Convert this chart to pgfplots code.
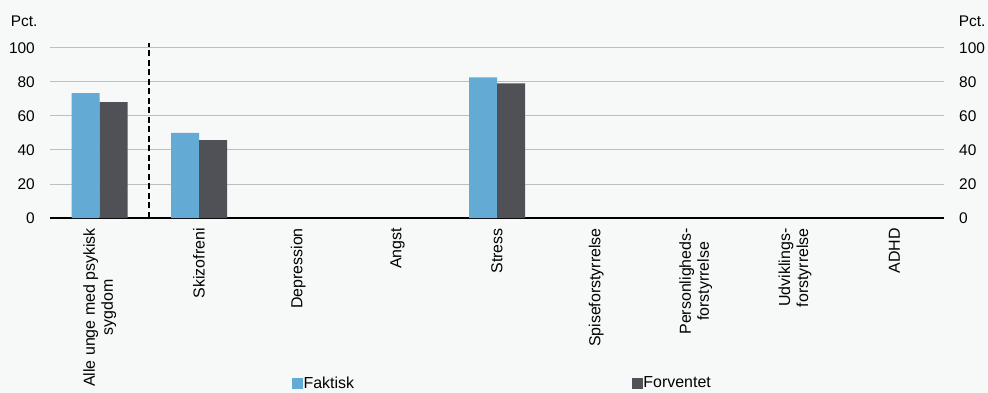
\documentclass[border=0pt]{standalone}
\usepackage{pgfplots}
\pgfplotsset{compat=1.18}
\usepackage{fontspec}
\setmainfont{Liberation Sans}
\definecolor{bgc}{RGB}{247,248,248}
\definecolor{cfak}{RGB}{99,170,213}
\definecolor{cfor}{RGB}{80,81,86}
\definecolor{cgrid}{RGB}{190,190,190}
\begin{document}
\begin{tikzpicture}
\useasboundingbox (0,0) rectangle (988bp,393bp);
\fill[bgc] (0,0) rectangle (988bp,393bp);
\begin{axis}[
  at={(50bp,175bp)}, anchor=south west,
  scale only axis, width=894bp, height=170.3bp,
  ymin=0, ymax=100, xmin=-0.5, xmax=8.5,
  clip=false,
  /pgf/number format/assume math mode=true,
  font=\fontsize{15.5}{18}\selectfont,
  ybar, bar width=28bp,
  axis x line*=bottom, axis y line*=left,
  x axis line style={black, line width=1.4bp, -},
  y axis line style={draw=none},
  ytick={0,20,...,100}, ytick style={draw=none},
  yticklabel style={anchor=east, inner sep=0pt, xshift=-15bp},
  ymajorgrids, major grid style={cgrid, line width=0.8bp},
  xtick={0,...,8},
  xticklabels={{Alle unge med psykisk\\sygdom},Skizofreni,Depression,Angst,Stress,Spiseforstyrrelse,{Personligheds-\\forstyrrelse},{Udviklings-\\forstyrrelse},ADHD},
  x tick style={draw=none},
  minor xtick={-0.5,0.5,...,8.5},
  minor x tick style={black, line width=1.2bp},
  tick align=outside, major tick length=0pt, minor tick length=5bp,
  xticklabel style={rotate=90, anchor=east, align=center, inner sep=0pt, font=\fontsize{16}{18}\selectfont},
  xticklabel shift=10bp,
  legend style={draw=none, fill=none, at={(0.2707,-0.969)}, anchor=west, legend columns=2, inner sep=0pt,
    font=\fontsize{16}{18}\selectfont,
    /tikz/every even column/.append style={column sep=277bp},
    nodes={inner sep=1bp}},
]
\addplot[fill=cfak, draw=none, bar shift=-14bp, forget plot] coordinates {(0,73.3) (1,50.0) (4,82.6)};
\addplot[fill=cfor, draw=none, bar shift=14bp, forget plot] coordinates {(0,68.0) (1,45.7) (4,79.1)};
\addlegendimage{legend image code/.code={\fill[cfak] (0bp,-5bp) rectangle (10bp,5bp);}}
\addlegendentry{Faktisk}
\addlegendimage{legend image code/.code={\fill[cfor] (0bp,-5bp) rectangle (10bp,5bp);}}
\addlegendentry{Forventet}
\draw[black, line width=2bp, dash pattern=on 6bp off 3.5bp] (axis cs:0.5,0) -- (axis cs:0.5,102.8);
\end{axis}
\begin{axis}[
  at={(50bp,175bp)}, anchor=south west,
  scale only axis, width=894bp, height=170.3bp,
  ymin=0, ymax=100, xmin=-0.5, xmax=8.5,
  /pgf/number format/assume math mode=true,
  font=\fontsize{15.5}{18}\selectfont,
  axis x line=none, axis y line*=right,
  y axis line style={draw=none},
  ytick={0,20,...,100}, ytick style={draw=none},
  yticklabel style={anchor=west, inner sep=0pt, xshift=15bp},
]
\addplot[draw=none, forget plot] coordinates {(0,0)};
\end{axis}
\node[anchor=east, inner sep=0pt, font=\fontsize{15.5}{18}\selectfont] at (37.7bp,371.5bp) {Pct.};
\node[anchor=west, inner sep=0pt, font=\fontsize{15.5}{18}\selectfont] at (958.7bp,371.5bp) {Pct.};
\end{tikzpicture}
\end{document}
